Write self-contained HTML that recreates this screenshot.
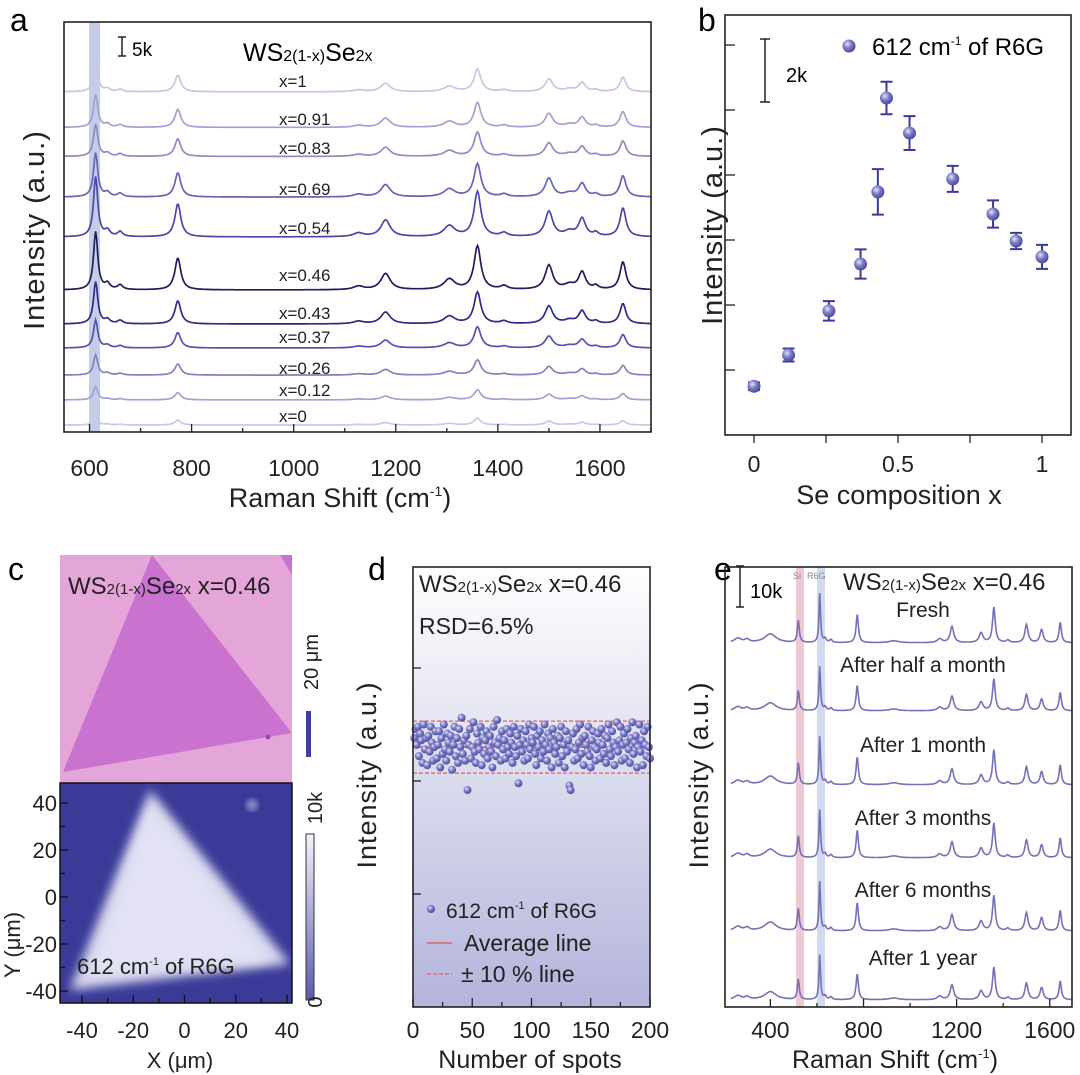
<!DOCTYPE html>
<html><head><meta charset="utf-8"><style>
html,body{margin:0;padding:0;background:#fff;}
svg{display:block;font-family:"Liberation Sans",sans-serif;}
</style></head><body>
<svg id="fig" width="1080" height="1075" viewBox="0 0 1080 1075" xmlns="http://www.w3.org/2000/svg">
<defs>
<radialGradient id="sph" cx="0.38" cy="0.35" r="0.7"><stop offset="0" stop-color="#e4e4fa"/><stop offset="0.45" stop-color="#7c7cc8"/><stop offset="1" stop-color="#45459a"/></radialGradient>
<linearGradient id="dbg" x1="0" y1="0" x2="0" y2="1"><stop offset="0" stop-color="#ffffff"/><stop offset="1" stop-color="#b4b4dc"/></linearGradient>
<linearGradient id="cbar" x1="0" y1="1" x2="0" y2="0"><stop offset="0" stop-color="#5a5aac"/><stop offset="1" stop-color="#f4f4fc"/></linearGradient>
<filter id="blur6"><feGaussianBlur stdDeviation="5"/></filter>
<filter id="blur3"><feGaussianBlur stdDeviation="3"/></filter>
<clipPath id="clipA"><rect x="64" y="22" width="587" height="410"/></clipPath>
<clipPath id="clipE"><rect x="725" y="567" width="347" height="440"/></clipPath>
<clipPath id="clipMap"><rect x="60" y="783" width="232" height="220"/></clipPath>
<clipPath id="clipOpt"><rect x="60" y="555" width="232" height="228"/></clipPath>
</defs>

<text x="10" y="31" font-size="32">a</text>
<text x="698" y="31" font-size="32">b</text>
<text x="8" y="580" font-size="32">c</text>
<text x="368" y="580" font-size="32">d</text>
<text x="714" y="580" font-size="32">e</text>

<g id="pa">
<rect x="89" y="22" width="11" height="410" fill="#c4cce8"/>
<g id="aSpec" clip-path="url(#clipA)"></g>
<rect x="64" y="22" width="587" height="410" fill="none" stroke="#222" stroke-width="1.6"/>
<g id="aTicks"></g>
<path d="M118,37 H126 M122,37 V56 M118,56 H126" stroke="#222" stroke-width="1.5" fill="none"/>
<text x="132" y="56" font-size="19">5k</text>
<text x="243" y="61" font-size="25">WS<tspan font-size="16">2(1-x)</tspan>Se<tspan font-size="16">2x</tspan></text>
<g id="aLabels" font-size="17"></g>
<text transform="translate(44,230) rotate(-90)" text-anchor="middle" font-size="29" letter-spacing="1" fill="#222">Intensity (a.u.)</text>
<text x="340" y="507" text-anchor="middle" font-size="27" fill="#222">Raman Shift (cm<tspan font-size="14" dy="-11">-1</tspan><tspan dy="11">)</tspan></text>
</g>

<g id="pb">
<rect x="725" y="15" width="346" height="420" fill="none" stroke="#222" stroke-width="1.6"/>
<g id="bTicks"></g>
<g id="bPts"></g>
<path d="M760,39 H770 M765,39 V102 M760,102 H770" stroke="#222" stroke-width="1.5" fill="none"/>
<text x="786" y="82" font-size="20">2k</text>
<circle cx="849" cy="46" r="6.5" fill="url(#sph)"/>
<text x="872" y="55" font-size="24">612 cm<tspan font-size="12" dy="-10">-1</tspan><tspan dy="10"> of R6G</tspan></text>
<text transform="translate(722,225) rotate(-90)" text-anchor="middle" font-size="29" letter-spacing="1" fill="#222">Intensity (a.u.)</text>
<text x="899" y="504" text-anchor="middle" font-size="27" fill="#222">Se composition x</text>
</g>

<g id="pc">
<g clip-path="url(#clipOpt)">
<rect x="60" y="555" width="232" height="228" fill="#e4a6d8"/>
<polygon points="152,555 292,733 63,772" fill="#c972cf"/>
<polygon points="280,555 292,555 292,575" fill="#c972cf"/>
<circle cx="268" cy="737" r="2.5" fill="#9a4aa8"/>
</g>
<text x="68" y="594" font-size="24" fill="#222">WS<tspan font-size="15">2(1-x)</tspan>Se<tspan font-size="15">2x</tspan> x=0.46</text>
<rect x="306" y="711" width="5" height="46" fill="#3f3f9e"/>
<text transform="translate(318,662) rotate(-90)" text-anchor="middle" font-size="20" fill="#222">20 μm</text>
<g clip-path="url(#clipMap)">
<rect x="60" y="783" width="232" height="220" fill="#3a3a98"/>
<polygon points="150,790 70,990 290,964" fill="#d6d6ee" filter="url(#blur6)"/>
<polygon points="150,805 90,975 270,960" fill="#e2e2f4" filter="url(#blur6)"/>
<circle cx="252" cy="805" r="6" fill="#8a8ac8" filter="url(#blur3)"/>
</g>
<rect x="60" y="783" width="232" height="220" fill="none" stroke="#111" stroke-width="1.5"/>
<g id="cTicks"></g>
<rect x="306" y="834" width="8" height="166" fill="url(#cbar)" stroke="#333" stroke-width="1"/>
<text transform="translate(322,808) rotate(-90)" text-anchor="middle" font-size="20" fill="#222">10k</text>
<text transform="translate(322,1002) rotate(-90)" text-anchor="middle" font-size="20" fill="#222">0</text>
<text x="77" y="974" font-size="22" fill="#222">612 cm<tspan font-size="11" dy="-9">-1</tspan><tspan dy="9"> of R6G</tspan></text>
<text transform="translate(20,945) rotate(-90)" text-anchor="middle" font-size="22" fill="#222">Y (μm)</text>
<text x="180" y="1068" text-anchor="middle" font-size="22" fill="#222">X (μm)</text>
</g>

<g id="pd">
<rect x="413" y="567" width="237" height="440" fill="url(#dbg)"/>
<g id="dLines"></g>
<g id="dPts"></g>
<rect x="413" y="567" width="237" height="440" fill="none" stroke="#222" stroke-width="1.6"/>
<g id="dTicks"></g>
<text x="419" y="592" font-size="24" fill="#222">WS<tspan font-size="15">2(1-x)</tspan>Se<tspan font-size="15">2x</tspan> x=0.46</text>
<text x="419" y="634" font-size="23" fill="#222">RSD=6.5%</text>
<circle cx="431" cy="909" r="4" fill="url(#sph)"/>
<text x="446" y="918" font-size="21" fill="#222">612 cm<tspan font-size="11" dy="-9">-1</tspan><tspan dy="9"> of R6G</tspan></text>
<line x1="427" y1="943" x2="452" y2="943" stroke="#e06060" stroke-width="1.5"/>
<text x="464" y="951" font-size="23" fill="#222">Average line</text>
<line x1="427" y1="974" x2="452" y2="974" stroke="#e06060" stroke-width="1.2" stroke-dasharray="4,2"/>
<text x="461" y="982" font-size="23" fill="#222">± 10 % line</text>
<text transform="translate(376,775) rotate(-90)" text-anchor="middle" font-size="27" letter-spacing="1" fill="#222">Intensity (a.u.)</text>
<text x="530" y="1068" text-anchor="middle" font-size="25" fill="#222">Number of spots</text>
</g>

<g id="pe">
<rect x="796" y="567" width="8" height="440" fill="#f0c8d4"/>
<rect x="817" y="567" width="8" height="440" fill="#d2daf2"/>
<g id="eSpec" clip-path="url(#clipE)"></g>
<rect x="725" y="567" width="347" height="440" fill="none" stroke="#222" stroke-width="1.6"/>
<g id="eTicks"></g>
<path d="M736,566 H744 M740,566 V607 M736,607 H744" stroke="#222" stroke-width="1.5" fill="none"/>
<text x="750" y="598" font-size="20">10k</text>
<text x="793" y="579" font-size="9" fill="#888">Si</text>
<text x="807" y="579" font-size="9" fill="#888">R6G</text>
<text x="843" y="590" font-size="24" fill="#222">WS<tspan font-size="15">2(1-x)</tspan>Se<tspan font-size="15">2x</tspan> x=0.46</text>
<g id="eLabels" font-size="21" text-anchor="middle"></g>
<text transform="translate(708,775) rotate(-90)" text-anchor="middle" font-size="27" letter-spacing="1" fill="#222">Intensity (a.u.)</text>
<text x="895" y="1068" text-anchor="middle" font-size="25" fill="#222">Raman Shift (cm<tspan font-size="13" dy="-10">-1</tspan><tspan dy="10">)</tspan></text>
</g>
</svg>
<script>
const aLabels = ["x=1","x=0.91","x=0.83","x=0.69","x=0.54","x=0.46","x=0.43","x=0.37","x=0.26","x=0.12","x=0"];
const aOffsets = [87.9,78.7,71.2,60.7,50.4,36.7,27.9,21.7,14.7,8.3,1.8];
const aPeak612 = [7.8,8.5,8.3,11.4,15.5,15.0,10.9,7.2,5.2,3.4,2.3];
const aColors = ["#c6c6e4","#a2a2d2","#8c8cc6","#6464b8","#4848aa","#1e1e5e","#2c2c88","#5252b4","#8282c2","#a2a2d2","#c8c8e4"];
const aLabelY = [81,119,148,189,228,275,313,337,368,390,416];
const peakPos = [612,635,660,773,1127,1180,1305,1360,1412,1500,1540,1565,1592,1645];
const peakRel = [1,0.1,0.08,0.55,0.06,0.28,0.18,0.75,0.06,0.42,0.08,0.3,0.06,0.48];
const peakWid = [5,6,6,7,12,11,13,8,8,9,12,8,6,7];
const aTickVals = [600,800,1000,1200,1400,1600];
const bX = [0,0.12,0.26,0.37,0.43,0.46,0.54,0.69,0.83,0.91,1];
const bY = [1.5,2.46,3.82,5.26,7.48,10.37,9.29,7.88,6.8,5.97,5.48];
const bErr = [0.12,0.2,0.3,0.45,0.7,0.5,0.52,0.4,0.42,0.25,0.37];
const bXTicks = [0,0.5,1];
const bXTickLabels = ["0","0.5","1"];
const bYTicks = [2,4,6,8,10,12];
const dAvg = 11.5;
const dVals = [11.9,12.3,11.6,12.4,11.1,12.1,11.8,10.8,12.5,11.4,11.9,10.7,12.0,11.3,12.4,11.7,10.9,11.5,12.2,11.0,
11.6,12.2,10.6,11.9,11.2,12.5,11.4,10.9,12.1,11.7,11.3,12.0,10.5,11.6,12.4,11.1,11.9,10.8,12.3,11.5,
12.8,11.2,11.8,10.9,12.0,9.6,11.6,12.3,11.0,11.5,12.6,11.3,10.8,12.1,11.7,11.4,12.4,10.7,11.9,11.2,
11.8,12.2,11.0,11.5,12.0,11.3,10.6,12.4,11.7,11.1,12.7,11.6,11.9,10.9,12.2,11.4,11.8,11.0,12.3,11.5,
11.2,12.1,11.7,10.8,12.4,11.5,11.1,12.0,9.9,11.6,12.3,11.3,11.8,10.9,12.2,11.6,11.0,12.5,11.4,11.9,
11.7,12.4,11.2,10.7,12.0,11.5,12.2,11.0,11.8,11.3,12.5,11.6,10.9,12.1,11.4,11.9,10.6,12.3,11.7,11.2,
11.5,12.0,10.8,11.9,12.4,11.1,11.6,10.6,12.2,11.3,11.8,9.8,9.6,11.5,12.1,10.9,11.4,12.3,11.0,11.7,
12.5,11.2,11.9,10.7,12.0,11.6,11.3,12.4,11.1,10.6,11.8,12.2,11.5,10.9,11.4,12.1,11.7,11.0,12.3,11.6,
11.2,12.0,10.8,11.9,12.5,11.4,11.1,12.2,11.7,10.7,11.5,12.6,11.3,11.8,12.4,10.9,11.6,12.1,11.0,11.7,
12.3,11.4,10.8,11.9,12.6,11.2,11.7,12.0,10.6,11.5,12.5,11.3,11.8,10.7,12.2,11.6,11.1,12.4,11.5,11.0];
const dXTicks = [0,50,100,150,200];
const dYTicks = [5,10,15];
const eLabels = ["Fresh","After half a month","After 1 month","After 3 months","After 6 months","After 1 year"];
const eOffsets = [86.7,70.5,52.9,35.5,18.1,1.7];
const ePeak612 = [11.7,10.5,11.4,11.4,11.7,10.7];
const eLabelY = [617,672,752,825,897,965];
const ePeakPos = [260,300,400,520,612,635,660,773,930,1127,1180,1305,1360,1420,1500,1565,1645];
const ePeakRel = [0.09,0.06,0.18,0.45,1,0.08,0.06,0.57,0.04,0.08,0.33,0.2,0.72,0.05,0.37,0.27,0.41];
const ePeakWid = [18,12,30,5,4,6,6,6,25,12,9,10,7,8,8,8,6];
const eTickVals = [400,800,1200,1600];
const cTicks = [-40,-20,0,20,40];

const NS="http://www.w3.org/2000/svg";
function mk(tag,attrs,parent){const e=document.createElementNS(NS,tag);for(const k in attrs)e.setAttribute(k,attrs[k]);parent.appendChild(e);return e;}
function spec(pos,rel,wid,x){let s=0;for(let i=0;i<pos.length;i++){const d=x-pos[i];s+=rel[i]*wid[i]*wid[i]/(d*d+wid[i]*wid[i]);}return s;}

const xa=v=>64+(v-550)/1150*587, ya=v=>432-v*3.87;
const xb=v=>754+v*288, yb=v=>435-v*32.5;
const xd=v=>413+v*1.185, yd=v=>1007-v*22.6;
const xe=v=>725+(v-205)*0.2328, ye=v=>1007-v*4.2;
const xc=v=>184.5+v*2.5625, yc=v=>897-v*2.35;

const gA=document.getElementById('aSpec');
for(let s=0;s<aLabels.length;s++){
  let d="";
  for(let x=550;x<=1700;x+=2){const v=aOffsets[s]+aPeak612[s]*spec(peakPos,peakRel,peakWid,x);d+=(x===550?"M":"L")+xa(x).toFixed(1)+","+ya(v).toFixed(1);}
  const p=mk('path',{d:d,fill:"none",stroke:aColors[s],"stroke-width":"1.7"},gA);
  
  
}
const gAL=document.getElementById('aLabels');
for(let s=0;s<aLabels.length;s++){
  const t=mk('text',{x:279,y:aLabelY[s]+6,fill:"#222"},gAL);t.textContent=aLabels[s];
  
  
}
const gAT=document.getElementById('aTicks');
for(let v=600;v<=1700;v+=100){const maj=aTickVals.includes(v);mk('line',{x1:xa(v),x2:xa(v),y1:432,y2:maj?424:428,stroke:"#222","stroke-width":"1.3"},gAT);}
aTickVals.forEach(v=>{const t=mk('text',{x:xa(v),y:476,"text-anchor":"middle","font-size":"23",fill:"#222"},gAT);t.textContent=v;
  
  });

const gBT=document.getElementById('bTicks');
bYTicks.forEach(v=>{mk('line',{x1:725,x2:735,y1:yb(v),y2:yb(v),stroke:"#222","stroke-width":"1.3"},gBT);});
for(let v=0;v<=1.0001;v+=0.25){mk('line',{x1:xb(v),x2:xb(v),y1:435,y2:443,stroke:"#222","stroke-width":"1.3"},gBT);}
bXTicks.forEach((v,i)=>{const t=mk('text',{x:xb(v),y:472,"text-anchor":"middle","font-size":"23",fill:"#222"},gBT);t.textContent=bXTickLabels[i];
  
  });
const gBP=document.getElementById('bPts');
bX.forEach((x,i)=>{
  const cx=xb(x), t=yb(bY[i]+bErr[i]), b=yb(bY[i]-bErr[i]);
  const e=mk('path',{d:`M${cx-6},${t}H${cx+6}M${cx},${t}V${b}M${cx-6},${b}H${cx+6}`,stroke:"#3a3a9a","stroke-width":"2",fill:"none"},gBP);
  
  
  const c=mk('circle',{cx:cx,cy:yb(bY[i]),r:6.5,fill:"url(#sph)"},gBP);
  
  
});

const gCT=document.getElementById('cTicks');
for(let v=-40;v<=40;v+=10){mk('line',{x1:xc(v),x2:xc(v),y1:1003,y2:v%20===0?995:998,stroke:"#111","stroke-width":"1.3"},gCT);
  mk('line',{x1:60,x2:v%20===0?68:65,y1:yc(v),y2:yc(v),stroke:"#111","stroke-width":"1.3"},gCT);}
cTicks.forEach(v=>{
  const t=mk('text',{x:xc(v),y:1038,"text-anchor":"middle","font-size":"22",fill:"#222"},gCT);t.textContent=v;
  
  
  const u=mk('text',{x:57,y:yc(v)+8,"text-anchor":"end","font-size":"22",fill:"#222"},gCT);u.textContent=v;
  
  
});

const gDL=document.getElementById('dLines');
const l1=mk('line',{x1:413,x2:650,y1:yd(dAvg),y2:yd(dAvg),stroke:"#e06060","stroke-width":"1.6"},gDL);


[1.1,0.9].forEach(f=>{const l=mk('line',{x1:413,x2:650,y1:yd(dAvg*f),y2:yd(dAvg*f),stroke:"#e06060","stroke-width":"1.2","stroke-dasharray":"4,2"},gDL);
  
  });
const gDP=document.getElementById('dPts');
dVals.forEach((v,i)=>{const c=mk('circle',{cx:xd(i+1),cy:yd(v),r:4,fill:"url(#sph)"},gDP);
  
  });
const gDT=document.getElementById('dTicks');
for(let v=0;v<=200;v+=25){mk('line',{x1:xd(v),x2:xd(v),y1:1007,y2:v%50===0?998:1002,stroke:"#222","stroke-width":"1.3"},gDT);}
dYTicks.forEach(v=>mk('line',{x1:413,x2:421,y1:yd(v),y2:yd(v),stroke:"#222","stroke-width":"1.3"},gDT));
dXTicks.forEach(v=>{const t=mk('text',{x:xd(v),y:1038,"text-anchor":"middle","font-size":"23",fill:"#222"},gDT);t.textContent=v;
  
  });

const gE=document.getElementById('eSpec');
for(let s=0;s<eLabels.length;s++){
  let d="";
  for(let x=230;x<=1700;x+=2){const v=eOffsets[s]+ePeak612[s]*spec(ePeakPos,ePeakRel,ePeakWid,x);d+=(x===230?"M":"L")+xe(x).toFixed(1)+","+ye(v).toFixed(1);}
  const p=mk('path',{d:d,fill:"none",stroke:"#7272b8","stroke-width":"1.6"},gE);
  
  
}
const gEL=document.getElementById('eLabels');
eLabels.forEach((l,i)=>{const t=mk('text',{x:923,y:eLabelY[i],fill:"#222"},gEL);t.textContent=l;
  
  });
const gET=document.getElementById('eTicks');
for(let v=400;v<=1700;v+=200){mk('line',{x1:xe(v),x2:xe(v),y1:1007,y2:eTickVals.includes(v)?999:1003,stroke:"#222","stroke-width":"1.3"},gET);}
eTickVals.forEach(v=>{const t=mk('text',{x:xe(v),y:1038,"text-anchor":"middle","font-size":"23",fill:"#222"},gET);t.textContent=v;
  
  });
</script>
</body></html>
